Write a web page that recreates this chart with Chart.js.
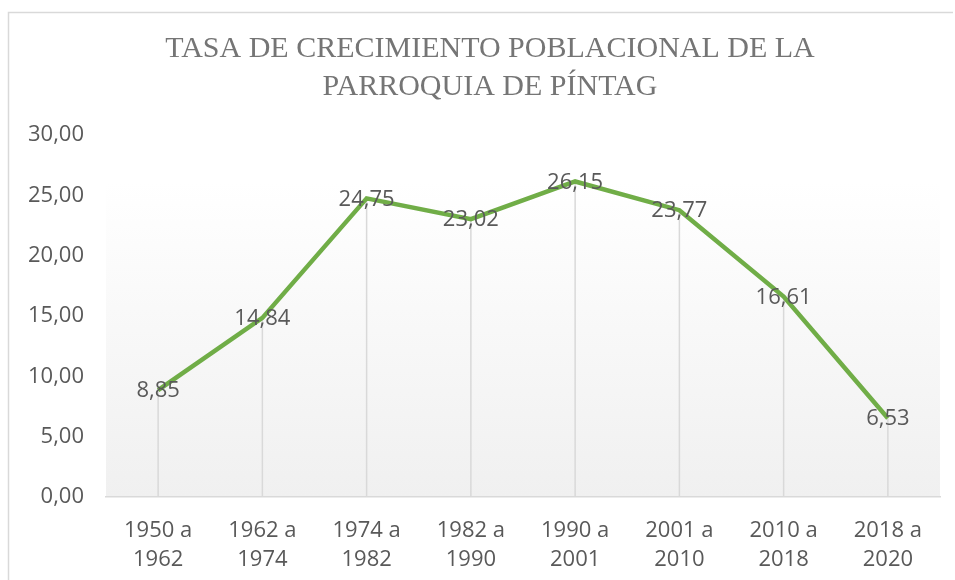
<!DOCTYPE html>
<html>
<head>
<meta charset="utf-8">
<script src="https://cdn.jsdelivr.net/npm/chart.js@4/dist/chart.umd.min.js"></script>
<style>
  html, body { margin: 0; padding: 0; background: #ffffff; }
  #wrap { width: 955px; height: 580px; position: relative; }
</style>
</head>
<body>
<div id="wrap"><canvas id="c" width="955" height="580"></canvas></div>
<script>
const categories = [
  ["1950 a", "1962"], ["1962 a", "1974"], ["1974 a", "1982"], ["1982 a", "1990"],
  ["1990 a", "2001"], ["2001 a", "2010"], ["2010 a", "2018"], ["2018 a", "2020"]
];
const tasaValues = [8.85, 14.84, 24.75, 23.02, 26.15, 23.77, 16.61, 6.53];
const titleLines = ["TASA DE CRECIMIENTO POBLACIONAL DE LA", "PARROQUIA DE PÍNTAG"];
const yMin = 0, yMax = 30, yStep = 5;

const fmt = v => v.toFixed(2).replace('.', ',');
const FONT = "'Open Sans', 'Liberation Sans', sans-serif";

const decorPlugin = {
  id: 'decor',
  beforeDraw(chart) {
    const ctx = chart.ctx;
    const a = chart.chartArea;
    ctx.save();
    ctx.strokeStyle = '#d9d9d9';
    ctx.lineWidth = 1.5;
    ctx.beginPath();
    ctx.moveTo(8.5, 580);
    ctx.lineTo(8.5, 12.5);
    ctx.lineTo(953, 12.5);
    ctx.stroke();
    const top = a.top + 0.13 * (a.bottom - a.top);
    const g = ctx.createLinearGradient(0, top, 0, a.bottom);
    g.addColorStop(0, '#ffffff');
    g.addColorStop(1, '#f0f0f0');
    ctx.fillStyle = g;
    ctx.fillRect(a.left, top, a.right - a.left, a.bottom - top);
    ctx.font = "30px 'Liberation Serif', 'Times New Roman', serif";
    ctx.fillStyle = '#757575';
    ctx.textAlign = 'center';
    ctx.textBaseline = 'middle';
    ctx.fillText(titleLines[0], 490, 49);
    ctx.fillText(titleLines[1], 490, 87);
    ctx.restore();
  },
  beforeDatasetsDraw(chart) {
    const ctx = chart.ctx;
    const meta = chart.getDatasetMeta(0);
    const yb = chart.scales.y.getPixelForValue(0);
    ctx.save();
    ctx.strokeStyle = '#d9d9d9';
    ctx.lineWidth = 1.5;
    meta.data.forEach(pt => {
      ctx.beginPath();
      ctx.moveTo(pt.x, pt.y);
      ctx.lineTo(pt.x, yb);
      ctx.stroke();
    });
    ctx.restore();
  },
  afterDatasetsDraw(chart) {
    const ctx = chart.ctx;
    const meta = chart.getDatasetMeta(0);
    const data = chart.data.datasets[0].data;
    ctx.save();
    ctx.font = "22px " + FONT;
    ctx.fillStyle = '#595959';
    ctx.textAlign = 'center';
    ctx.textBaseline = 'middle';
    meta.data.forEach((pt, i) => {
      ctx.fillText(fmt(data[i]), pt.x, pt.y + 1);
    });
    ctx.restore();
  }
};

new Chart(document.getElementById('c'), {
  type: 'line',
  data: {
    labels: categories,
    datasets: [{
      data: tasaValues,
      borderColor: '#70ad47',
      borderWidth: 4.5,
      pointRadius: 0,
      pointHoverRadius: 0,
      tension: 0,
      fill: false
    }]
  },
  options: {
    responsive: false,
    animation: false,
    events: [],
    layout: { padding: { left: 0, right: 15, top: 135, bottom: 0 } },
    plugins: {
      legend: { display: false },
      tooltip: { enabled: false },
      title: { display: false }
    },
    scales: {
      x: {
        offset: true,
        grid: { display: false, drawTicks: false },
        border: { display: true, color: '#d9d9d9', width: 1.5 },
        ticks: {
          color: '#595959',
          font: { family: FONT, size: 22, lineHeight: 1.33 },
          padding: 19,
          maxRotation: 0,
          autoSkip: false
        },
        afterFit(s) { s.height = 83; }
      },
      y: {
        min: yMin, max: yMax,
        grid: { display: false, drawTicks: false },
        border: { display: false },
        ticks: {
          stepSize: yStep,
          color: '#595959',
          font: { family: FONT, size: 22 },
          padding: 22,
          callback: v => fmt(v)
        },
        afterFit(s) { s.width = 106; }
      }
    }
  },
  plugins: [decorPlugin]
});
</script>
</body>
</html>
